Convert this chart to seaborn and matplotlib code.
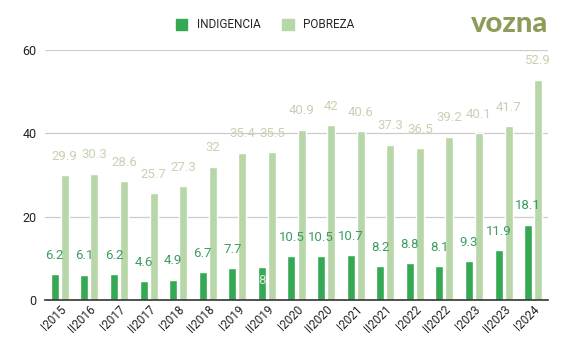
import numpy as np
import pandas as pd
import matplotlib
matplotlib.use("Agg")
import matplotlib.pyplot as plt
import seaborn as sns
from matplotlib.patches import Patch

periods = ["I2015", "II2016", "I2017", "II2017", "I2018", "II2018", "I2019", "II2019",
           "I2020", "II2020", "I2021", "II2021", "I2022", "II2022", "I2023", "II2023", "I2024"]
indigencia = [6.2, 6.1, 6.2, 4.6, 4.9, 6.7, 7.7, 8, 10.5, 10.5, 10.7, 8.2, 8.8, 8.1, 9.3, 11.9, 18.1]
pobreza = [29.9, 30.3, 28.6, 25.7, 27.3, 32, 35.4, 35.5, 40.9, 42, 40.6, 37.3, 36.5, 39.2, 40.1, 41.7, 52.9]
series = ["INDIGENCIA", "POBREZA"]
colors = ["#34a853", "#b7d7a8"]
label_colors = ["#3c9c62", "#c5d2b2"]

df = pd.DataFrame({"periodo": periods * 2,
                   "serie": [series[0]] * len(periods) + [series[1]] * len(periods),
                   "valor": indigencia + pobreza})

sns.set_style("white")
plt.rcParams["font.family"] = ["Roboto", "DejaVu Sans"]

fig = plt.figure(figsize=(5.7, 3.53), dpi=100)
ax = fig.add_axes([45 / 570, 1 - 300 / 353, 503 / 570, 250 / 353])

sns.barplot(data=df, x="periodo", y="valor", hue="serie", palette=colors,
            width=0.68, gap=0.2, saturation=1, ax=ax, legend=False)

ax.set_ylim(0, 60)
ax.set_yticks([0, 20, 40, 60])
ax.yaxis.grid(True, color="#cccccc", linewidth=0.9)
ax.set_axisbelow(True)
for s in ["top", "right", "left"]:
    ax.spines[s].set_visible(False)
ax.spines["bottom"].set_color("#333333")
ax.spines["bottom"].set_linewidth(1.2)
ax.set_xlabel("")
ax.set_ylabel("")
ax.tick_params(axis="y", length=0, labelsize=9, colors="#222222", pad=6)
ax.tick_params(axis="x", length=0, labelsize=8.5, colors="#222222", pad=2)
plt.setp(ax.get_xticklabels(), rotation=45, ha="right", rotation_mode="anchor")

for i, cont in enumerate(ax.containers):
    for bar, val in zip(cont, [indigencia, pobreza][i]):
        x = bar.get_x() + bar.get_width() / 2
        txt = f"{val:g}"
        if i == 0 and val == 8:
            ax.annotate(txt, (x, val), xytext=(0, -10), textcoords="offset points",
                        ha="center", va="center", fontsize=9.5, color="#d8ecd0")
        else:
            ax.annotate(txt, (x, val), xytext=(0, 13.5), textcoords="offset points",
                        ha="center", va="center", fontsize=9.5, color=label_colors[i])

handles = [Patch(color=c) for c in colors]
fig.legend(handles, series, loc="center", bbox_to_anchor=(265 / 570, 1 - 25 / 353),
           ncol=2, frameon=False, fontsize=8.5, handlelength=1.0, handleheight=1.0,
           columnspacing=1.8, handletextpad=0.8)

fig.text(510 / 570, 1 - 24 / 353, "vozna", ha="center", va="center", fontsize=21,
         fontweight="black", color="#8c9d5a", family=["Lato", "DejaVu Sans"])

fig.savefig("out.png", dpi=100)
